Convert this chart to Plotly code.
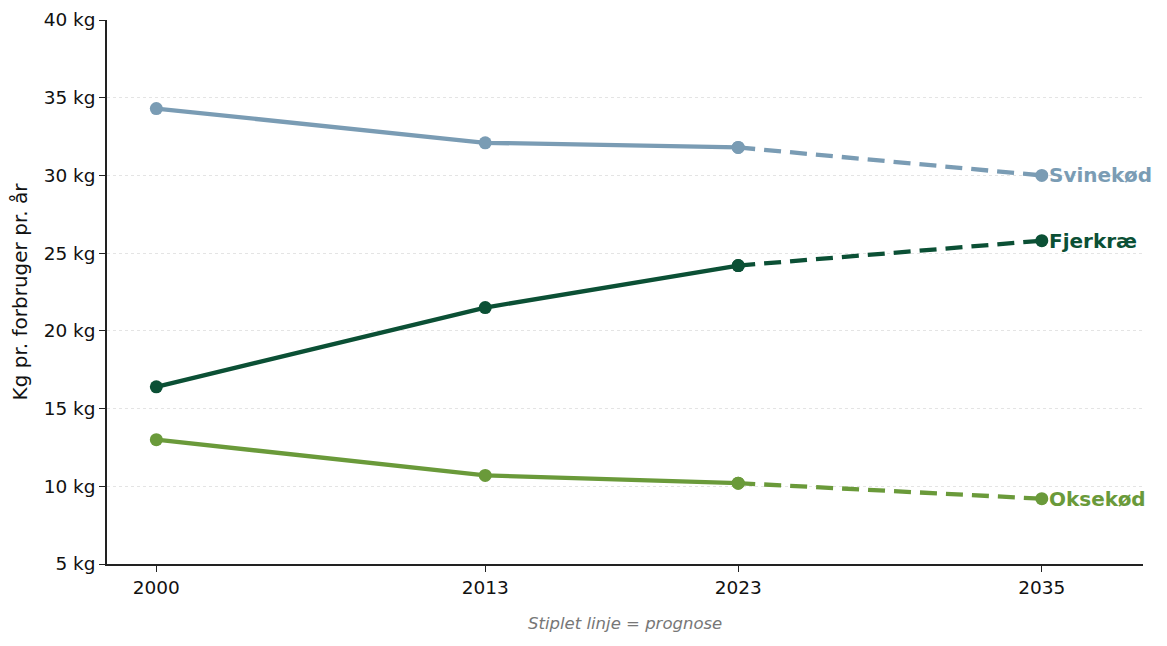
"""
Forbrug af kød pr. forbruger pr. år (2000-2035)
Solid line = historical data, dashed line = forecast
"""

import plotly.graph_objects as go

YEARS = [2000, 2013, 2023, 2035]

SVINEKOED = [34.3, 32.1, 31.8, 30.0]
FJERKRAE = [16.4, 21.5, 24.2, 25.8]
OKSEKOED = [13.0, 10.7, 10.2, 9.2]

SERIES = [
    ("Svinekød", SVINEKOED, "#7a9cb4"),
    ("Fjerkræ", FJERKRAE, "#0b5035"),
    ("Oksekød", OKSEKOED, "#6a9a3a"),
]

Y_TICKS = [5, 10, 15, 20, 25, 30, 35, 40]
FONT = "DejaVu Sans"


def main():
    fig = go.Figure()

    for name, values, color in SERIES:
        # historical part, solid
        fig.add_trace(go.Scatter(
            x=YEARS[:3], y=values[:3], mode="lines+markers",
            line=dict(color=color, width=4.3),
            marker=dict(color=color, size=13),
            showlegend=False, name=name))
        # forecast part, dashed
        fig.add_trace(go.Scatter(
            x=YEARS[2:], y=values[2:], mode="lines+markers",
            line=dict(color=color, width=4.3, dash="17px,9px"),
            marker=dict(color=color, size=13),
            showlegend=False, name=name + " (prognose)"))
        # label next to the last point
        fig.add_annotation(
            x=YEARS[-1], y=values[-1], text="<b>" + name + "</b>",
            showarrow=False, xanchor="left", xshift=5,
            font=dict(family=FONT, size=20, color=color))

    fig.add_annotation(
        x=0.5, y=-0.11, xref="paper", yref="paper", yanchor="middle",
        text="<i>Stiplet linje = prognose</i>", showarrow=False,
        font=dict(family=FONT, size=16.5, color="#777777"))

    # the page adds an 8px body margin, so margins are trimmed to match
    fig.update_layout(
        width=1167, height=646,
        margin=dict(l=99, r=32, t=12, b=90),
        plot_bgcolor="white", paper_bgcolor="white",
        font=dict(family=FONT, size=18.5, color="#111111"))

    fig.update_xaxes(
        range=[1998.05, 2039], tickvals=YEARS, automargin=False,
        showgrid=False, zeroline=False,
        showline=True, linecolor="#222222", linewidth=1.5,
        ticks="outside", ticklen=6, tickcolor="#222222")

    fig.update_yaxes(
        range=[5, 40], tickvals=Y_TICKS, automargin=False,
        ticktext=[f"{t} kg" for t in Y_TICKS],
        title=dict(text="Kg pr. forbruger pr. år", font=dict(size=20),
                   standoff=12),
        showgrid=True, gridcolor="#e4e4e4", griddash="dot", gridwidth=1,
        zeroline=False,
        showline=True, linecolor="#222222", linewidth=1.5,
        ticks="outside", ticklen=6, tickcolor="#222222")

    fig.write_html("out.html")


if __name__ == '__main__':
    main()
